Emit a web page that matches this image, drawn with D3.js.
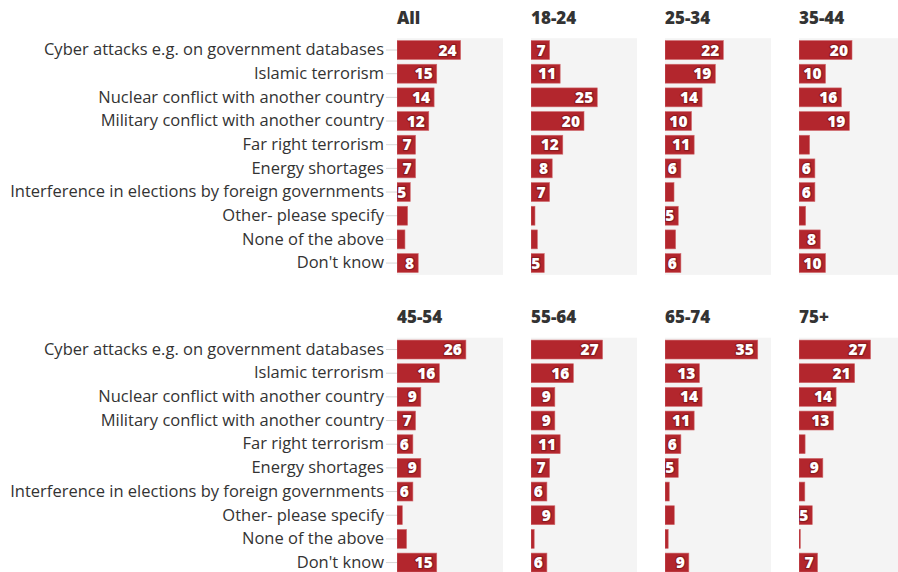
<!DOCTYPE html>
<html>
<head>
<meta charset="utf-8">
<script src="https://cdn.jsdelivr.net/npm/d3@7"></script>
<style>
  html, body { margin: 0; padding: 0; background: #fff; }
  svg { display: block; }
  .cat { font-family: "Open Sans", Lato, sans-serif; font-size: 16.5px; fill: #333; }
  .title { font-family: "Open Sans", Lato, sans-serif; font-size: 17px; font-weight: 800; fill: #333; }
  .val { font-family: "Open Sans", Lato, sans-serif; font-size: 15.5px; font-weight: 800; fill: #fff;
         stroke: #8c1b20; stroke-width: 2.5px; paint-order: stroke; stroke-linejoin: round; }
</style>
</head>
<body>
<svg id="chart" width="898" height="572"></svg>
<script>
// Threat categories, top to bottom
const categories = [
  "Cyber attacks e.g. on government databases",
  "Islamic terrorism",
  "Nuclear conflict with another country",
  "Military conflict with another country",
  "Far right terrorism",
  "Energy shortages",
  "Interference in elections by foreign governments",
  "Other- please specify",
  "None of the above",
  "Don't know"
];

// Age groups, in panel order
const groups = ["All", "18-24", "25-34", "35-44", "45-54", "55-64", "65-74", "75+"];

// Percentage choosing each threat, per group (same order as categories)
const valAll   = [24, 15, 14, 12, 7, 7, 5, 4, 3, 8];
const val18_24 = [7, 11, 25, 20, 12, 8, 7, 1.5, 2.4, 5];
const val25_34 = [22, 19, 14, 10, 11, 6, 3.4, 5, 4, 6];
const val35_44 = [20, 10, 16, 19, 4, 6, 6, 2.5, 8, 10];
const val45_54 = [26, 16, 9, 7, 6, 9, 6, 2, 3.6, 15];
const val55_64 = [27, 16, 9, 9, 11, 7, 6, 9, 1.2, 6];
const val65_74 = [35, 13, 14, 11, 6, 5, 1.6, 3.5, 1.2, 9];
const val75    = [27, 21, 14, 13, 2.3, 9, 2.2, 5, 0.5, 7];

const seriesValues = [valAll, val18_24, val25_34, val35_44, val45_54, val55_64, val65_74, val75];

const svg = d3.select("#chart");

const panelW = 106, panelStep = 134, panelX0 = 397;
const rowTops = [38.2, 337.7];
const rowHeight = 236.7;
const xMax = 40;

const x = d3.scaleLinear().domain([0, xMax]).range([0, panelW]);

groups.forEach((g, gi) => {
  const row = Math.floor(gi / 4), col = gi % 4;
  const px = panelX0 + col * panelStep;
  const top = rowTops[row];
  const y = d3.scaleBand().domain(categories).range([top, top + rowHeight]).paddingInner(0.2).paddingOuter(0.1);
  const data = categories.map((c, i) => ({ cat: c, v: seriesValues[gi][i] }));

  // Category axis on the left of the first column
  if (col === 0) {
    const axis = svg.append("g")
      .attr("transform", `translate(${px},0)`)
      .call(d3.axisLeft(y).tickSize(11).tickPadding(2));
    axis.select(".domain").remove();
    axis.selectAll(".tick line").attr("stroke", "#d6d6d6");
    axis.selectAll(".tick text").attr("class", "cat").attr("fill", null);
  }

  const p = svg.append("g").attr("transform", `translate(${px},0)`);
  const clipId = "clip" + gi;
  p.append("clipPath").attr("id", clipId)
    .append("rect").attr("x", 0).attr("y", top).attr("width", panelW).attr("height", rowHeight);

  p.append("text").attr("class", "title").attr("x", 0).attr("y", top - 14.5).text(g);

  p.append("rect").attr("x", 0).attr("y", top).attr("width", panelW).attr("height", rowHeight)
    .attr("fill", "#f4f4f4");

  const inner = p.append("g").attr("clip-path", `url(#${clipId})`);
  inner.selectAll("rect.bar").data(data).join("rect")
    .attr("class", "bar")
    .attr("x", 0)
    .attr("y", d => y(d.cat))
    .attr("width", d => x(d.v))
    .attr("height", y.bandwidth())
    .attr("fill", "#b3262d")
    .attr("stroke", "#cf6a6e")
    .attr("stroke-width", 0.6);

  inner.selectAll("text.val").data(data.filter(d => d.v >= 5)).join("text")
    .attr("class", "val")
    .attr("x", d => x(d.v) - 4)
    .attr("y", d => y(d.cat) + y.bandwidth() / 2)
    .attr("dy", "0.36em")
    .attr("text-anchor", "end")
    .text(d => Math.round(d.v));
});
</script>
</body>
</html>
